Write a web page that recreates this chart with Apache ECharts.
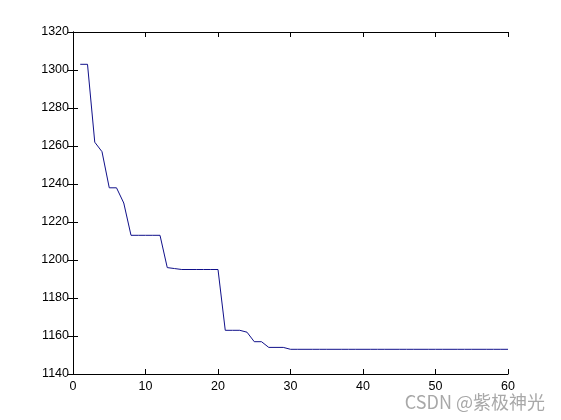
<!DOCTYPE html>
<html>
<head>
<meta charset="utf-8">
<script src="https://cdn.jsdelivr.net/npm/echarts@6/dist/echarts.min.js"></script>
<style>html,body{margin:0;padding:0;background:#fff}#c{width:561px;height:420px}</style>
</head>
<body>
<div id="c"></div>
<script>
const iterations = [1,2,3,4,5,6,7,8,9,10,11,12,13,14,15,16,17,18,19,20,21,22,23,24,25,26,27,28,29,30,31,32,33,34,35,36,37,38,39,40,41,42,43,44,45,46,47,48,49,50,51,52,53,54,55,56,57,58,59,60];
const values = [1303,1303,1262,1257,1238,1238,1230,1213,1213,1213,1213,1213,1196,1195.5,1195,1195,1195,1195,1195,1195,1163,1163,1163,1162,1157,1157,1154,1154,1154,1153,1153,1153,1153,1153,1153,1153,1153,1153,1153,1153,1153,1153,1153,1153,1153,1153,1153,1153,1153,1153,1153,1153,1153,1153,1153,1153,1153,1153,1153,1153];
const xTicks = {min:0, max:60, interval:10};
const yTicks = {min:1140, max:1320, interval:20};
const watermark = 'CSDN @紫极神光';

const chart = echarts.init(document.getElementById('c'), null, {renderer:'canvas'});
const lbl = {color:'#000', fontFamily:'Liberation Sans, Arial, sans-serif', fontSize:12.5, formatter:v=>String(v)};
const line = {show:true, lineStyle:{color:'#000', width:1}};
const tick = {show:true, inside:true, length:5, lineStyle:{color:'#000', width:1}};
chart.setOption({
  animation:false,
  backgroundColor:'#fff',
  grid:{left:73, right:53, top:32, bottom:46, containLabel:false},
  xAxis:[
    {type:'value', min:xTicks.min, max:xTicks.max, interval:xTicks.interval, position:'bottom',
     axisLine:line, axisTick:tick, splitLine:{show:false}, axisLabel:Object.assign({margin:6}, lbl)},
    {type:'value', min:xTicks.min, max:xTicks.max, interval:xTicks.interval, position:'top',
     axisLine:line, axisTick:tick, splitLine:{show:false}, axisLabel:{show:false}}
  ],
  yAxis:[
    {type:'value', min:yTicks.min, max:yTicks.max, interval:yTicks.interval, position:'left',
     axisLine:line, axisTick:tick, splitLine:{show:false}, axisLabel:Object.assign({margin:4}, lbl)},
    {type:'value', min:yTicks.min, max:yTicks.max, interval:yTicks.interval, position:'right',
     axisLine:line, axisTick:tick, splitLine:{show:false}, axisLabel:{show:false}}
  ],
  series:[{
    type:'line', xAxisIndex:0, yAxisIndex:0,
    data:iterations.map((x,i)=>[x, values[i]]),
    showSymbol:false, symbol:'none',
    lineStyle:{color:'#10108a', width:1},
    itemStyle:{color:'#10108a'}
  }],
  graphic:[{
    type:'text', right:16, top:393,
    style:{text:watermark, fill:'#a8a8a8', font:'18px "Noto Sans CJK SC", sans-serif'}
  }]
});
</script>
</body>
</html>
